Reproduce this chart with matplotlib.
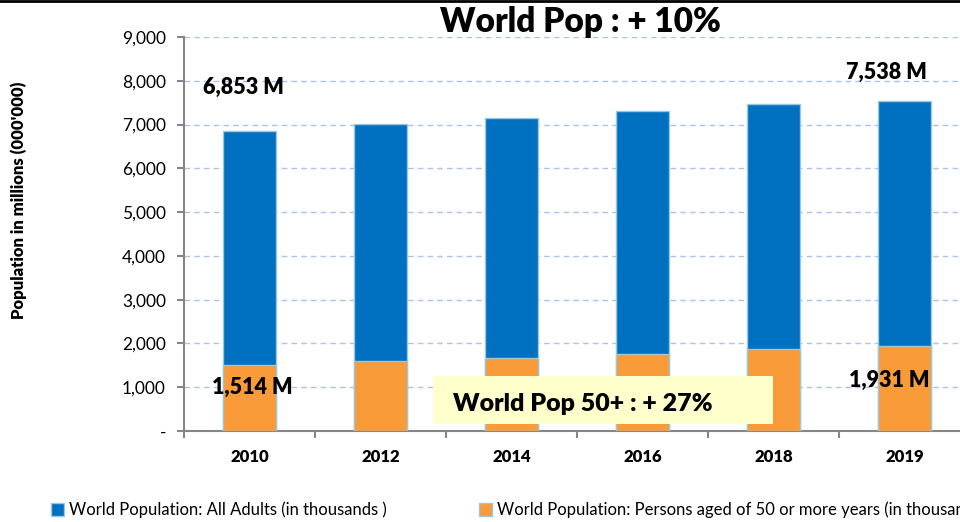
import matplotlib.pyplot as plt
from matplotlib.patches import Rectangle

years = ["2010", "2012", "2014", "2016", "2018", "2019"]
all_adults = [6853, 7010, 7150, 7310, 7465, 7538]
aged_50_plus = [1514, 1590, 1670, 1760, 1870, 1931]
y_ticks = [0, 1000, 2000, 3000, 4000, 5000, 6000, 7000, 8000, 9000]
y_tick_labels = ["-", "1,000", "2,000", "3,000", "4,000", "5,000", "6,000", "7,000", "8,000", "9,000"]

plt.rcParams['font.family'] = ['Lato', 'DejaVu Sans']

blue = "#0070C0"
orange = "#F99B38"
edge = "#9DC8DC"

fig = plt.figure(figsize=(9.6, 5.22), dpi=100)
ax = fig.add_axes([184 / 960, 1 - 431 / 522, 786 / 960, 394 / 522])

x = list(range(len(years)))
ax.bar(x, all_adults, width=0.4, color=blue, edgecolor=edge, linewidth=1, zorder=3)
ax.bar(x, aged_50_plus, width=0.4, color=orange, edgecolor=edge, linewidth=1, zorder=4)

ax.set_xlim(-0.5, len(years) - 0.5)
ax.set_ylim(0, 9000)
ax.set_yticks(y_ticks)
ax.set_yticklabels(y_tick_labels, fontsize=12.5)
ax.set_xticks(x)
ax.set_xticklabels(years, fontsize=12, fontweight="heavy")
ax.set_xticks([i - 0.5 for i in range(len(years) + 1)], minor=True)
ax.tick_params(axis="x", which="major", length=0, pad=13)
ax.tick_params(axis="x", which="minor", length=5, width=1.5, color="#868686", direction="out")
ax.tick_params(axis="y", length=5, width=1.5, color="#868686", pad=8)

ax.yaxis.grid(True, linestyle=(0, (4, 3)), color="#A9C4EB", linewidth=1, zorder=0)
for side in ["top", "right"]:
    ax.spines[side].set_visible(False)
for side in ["left", "bottom"]:
    ax.spines[side].set_color("#868686")
    ax.spines[side].set_linewidth(1.5)

ax.set_ylabel("Population in millions (000'000)", fontsize=12, fontweight="heavy")
ax.yaxis.set_label_coords(-0.2, 0.586)

# value labels
lab = dict(ha="center", va="center", fontsize=15.5, fontweight="heavy", zorder=6)
ax.text(-0.05, 7850, "6,853 M", **lab)
ax.text(4.86, 8200, "7,538 M", **lab)
ax.text(0.02, 1000, "1,514 M", **lab)
ax.text(4.88, 1150, "1,931 M", **lab)

fig.text(580 / 960, 1 - 22 / 522, "World Pop : + 10%", ha="center", va="center",
         fontsize=24, fontweight="heavy")

# yellow callout
fig.patches.append(Rectangle((433 / 960, 1 - 424 / 522), 340 / 960, 48 / 522,
                             transform=fig.transFigure, facecolor="#FFFFCC",
                             edgecolor="none", zorder=10))
fig.text(453 / 960, 1 - 404 / 522, "World Pop 50+ : + 27%", ha="left", va="center",
         fontsize=18, fontweight="heavy", zorder=11)

# top border line
fig.add_artist(plt.Line2D([0, 1], [1 - 1 / 522, 1 - 1 / 522], color="black", linewidth=2,
                          transform=fig.transFigure))

handles = [Rectangle((0, 0), 1, 1, facecolor=blue, edgecolor=edge),
           Rectangle((0, 0), 1, 1, facecolor=orange, edgecolor=edge)]
fig.legend(handles,
           ["World Population: All Adults (in thousands )",
            "World Population: Persons aged of 50 or more years (in thousands)"],
           loc="lower left", bbox_to_anchor=(36 / 960, -0.022), ncol=2, frameon=False,
           fontsize=12, handlelength=0.8, handleheight=0.8, handletextpad=0.3,
           columnspacing=5.5)

fig.savefig("out.png", dpi=100)
